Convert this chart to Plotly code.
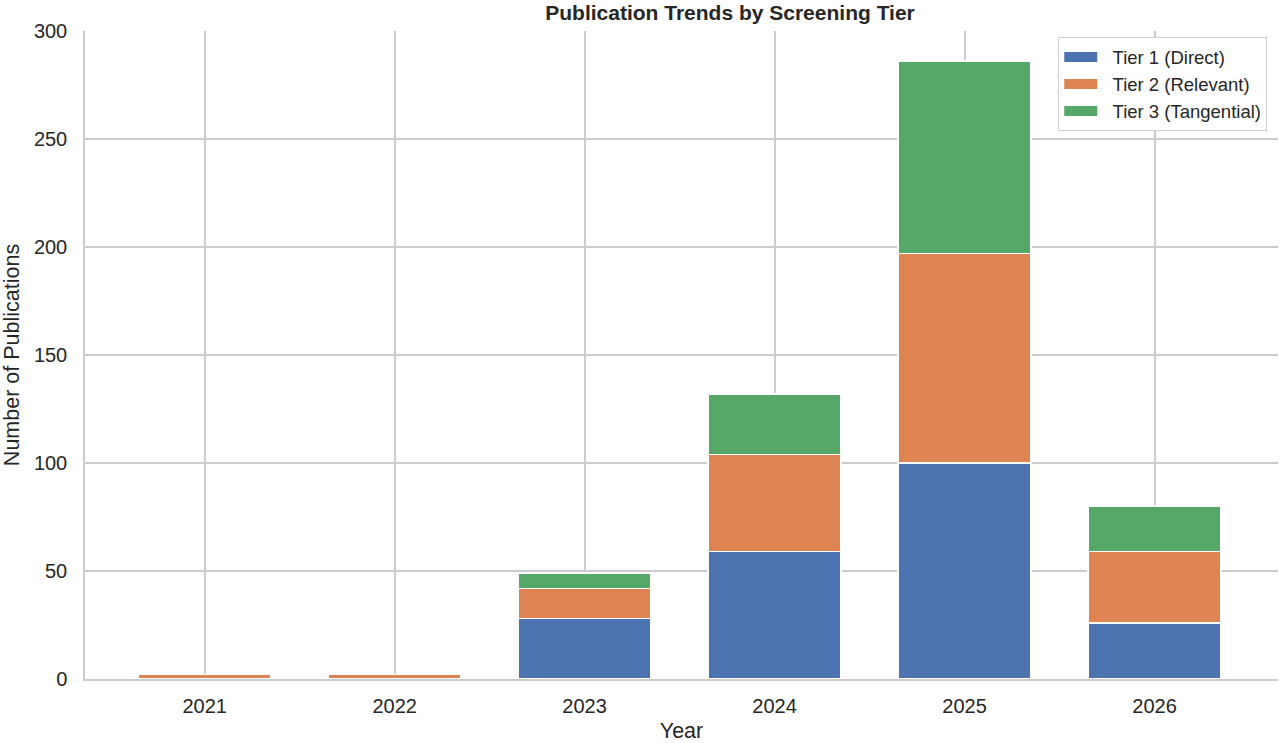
import plotly.graph_objects as go

years = ["2021", "2022", "2023", "2024", "2025", "2026"]
tier1 = [0, 0, 28, 59, 100, 26]
tier2 = [2, 2, 14, 45, 97, 33]
tier3 = [0, 0, 7, 28, 89, 21]
series_names = ["Tier 1 (Direct)", "Tier 2 (Relevant)", "Tier 3 (Tangential)"]
colors = ["#4C72B0", "#DD8452", "#55A868"]

fig = go.Figure()
for name, vals, col in zip(series_names, [tier1, tier2, tier3], colors):
    fig.add_trace(go.Bar(
        x=years, y=vals, name=name, legendgroup=name, showlegend=False,
        marker=dict(color=col, line=dict(color="white", width=1.5)),
        width=0.7,
    ))
# legend swatches (wide rectangles like the reference)
for name, col in zip(series_names, colors):
    fig.add_trace(go.Scatter(
        x=[None], y=[None], name="\u00a0\u00a0" + name, legendgroup=name,
        mode="lines", line=dict(color=col, width=11), hoverinfo="skip",
    ))

fig.update_layout(
    barmode="stack",
    width=1280, height=743,
    paper_bgcolor="white", plot_bgcolor="white",
    margin=dict(l=85, r=2, t=31, b=64, autoexpand=False),
    font=dict(family="Liberation Sans, Arial, sans-serif", color="#262626"),
    title=dict(text="<b>Publication Trends by Screening Tier</b>",
               x=730 / 1280, xanchor="center",
               y=1 - 13 / 743, yanchor="middle",
               font=dict(size=21, color="#262626")),
    legend=dict(x=0.991, xanchor="right", y=0.99, yanchor="top",
                bgcolor="white", bordercolor="#d0d0d0", borderwidth=1,
                font=dict(size=18.5), traceorder="normal", tracegroupgap=0,
                itemwidth=33),
)
fig.update_xaxes(
    type="category", categoryarray=years, range=[-0.63, 5.65], automargin=False,
    showgrid=True, gridcolor="#cccccc", gridwidth=1.5,
    showline=True, linecolor="#cccccc", linewidth=1.5,
    ticks="", tickfont=dict(size=20), ticklabelstandoff=8,
    title=dict(text="Year", font=dict(size=21.5), standoff=10),
)
fig.update_yaxes(
    range=[0, 300], tickvals=[0, 50, 100, 150, 200, 250, 300], automargin=False,
    showgrid=True, gridcolor="#cccccc", gridwidth=1.5,
    showline=True, linecolor="#cccccc", linewidth=1.5,
    zeroline=False, ticks="", tickfont=dict(size=20), ticklabelstandoff=12,
    title=dict(text="Number of Publications", font=dict(size=21.5), standoff=10),
)

fig.write_html("out.html", config={"displayModeBar": False},
               post_script="document.body.style.margin='0';document.body.style.overflow='hidden';")
